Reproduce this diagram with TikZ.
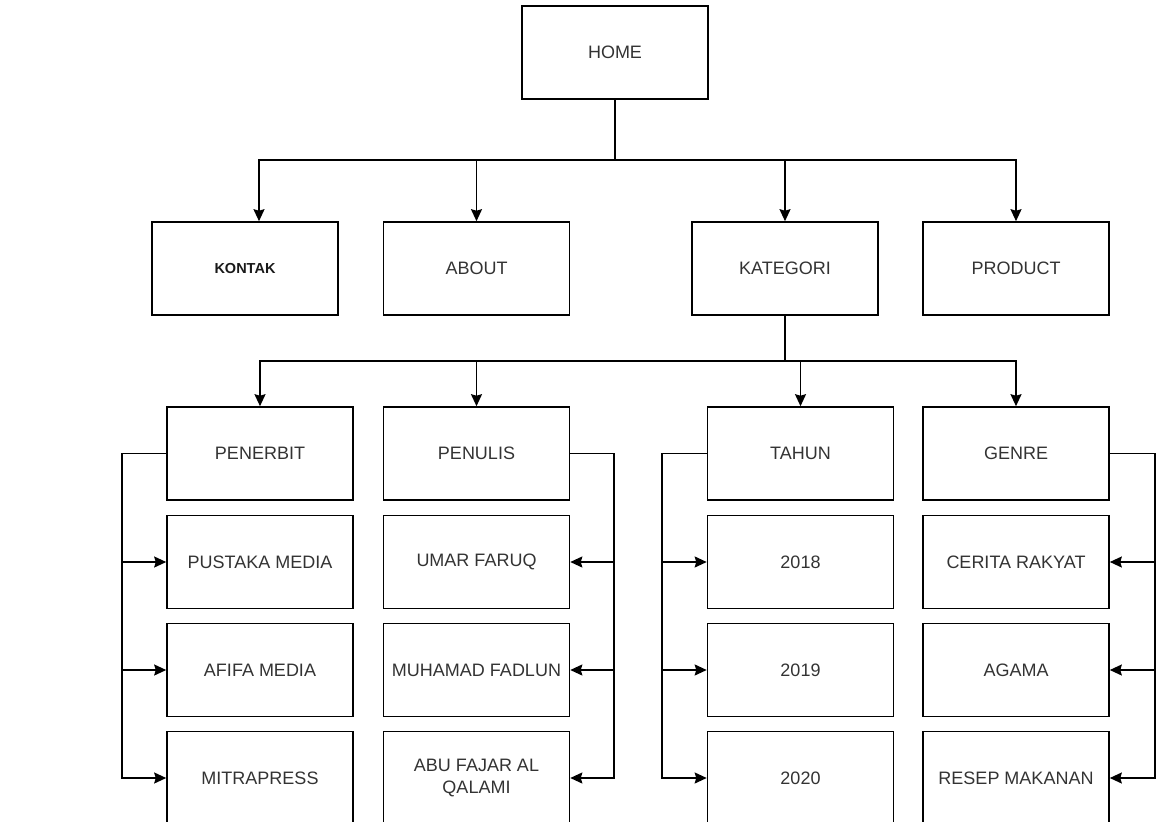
\documentclass[tikz,border=0pt]{standalone}
\usepackage{fontspec}
\setmainfont{Liberation Sans}
\usetikzlibrary{arrows.meta}

\tikzset{
  page/.style={draw=black, line width=1.6pt, minimum width=186pt, minimum height=93pt,
    inner sep=2pt, align=center, text=black!80, font=\fontsize{18}{21}\selectfont},
  link/.style={line width=1.6pt, -{Stealth[length=12pt,width=11pt,inset=1.5pt]}},
  wire/.style={line width=1.6pt}
}

\begin{document}
\begin{tikzpicture}[x=1pt,y=-1pt]
  \useasboundingbox (0,0) rectangle (1160,822);

  % --- top level ---
  \node[page] (home) at (615,52.5) {HOME};

  % --- menu ---
  \node[page, font=\bfseries\fontsize{14.5}{17}\selectfont, text=black!90] (kontak) at (245,268.5) {KONTAK};
  \node[page] (about) at (476.5,268.5) {ABOUT};
  \node[page] (kategori) at (785,268.5) {KATEGORI};
  \node[page] (product) at (1016,268.5) {PRODUCT};

  \coordinate (bus1) at (615,160);
  \draw[wire] (home.south) -- (bus1);
  \draw[link] (bus1) -| ([xshift=14pt]kontak.north);
  \draw[link] (bus1) -| (about.north);
  \draw[link] (bus1) -| (kategori.north);
  \draw[link] (bus1) -| (product.north);

  % --- kategori ---
  \node[page] (penerbit) at (260,453.5) {PENERBIT};
  \node[page] (penulis) at (476.5,453.5) {PENULIS};
  \node[page] (tahun) at (800.5,453.5) {TAHUN};
  \node[page] (genre) at (1016,453.5) {GENRE};

  \coordinate (bus2) at (785,361);
  \draw[wire] (kategori.south) -- (bus2);
  \draw[link] (bus2) -| (penerbit.north);
  \draw[link] (bus2) -| (penulis.north);
  \draw[link] (bus2) -| (tahun.north);
  \draw[link] (bus2) -| (genre.north);

  % --- sub items ---
  \node[page] (pustaka) at (260,562) {PUSTAKA MEDIA};
  \node[page] (afifa) at (260,670) {AFIFA MEDIA};
  \node[page] (mitra) at (260,778) {MITRAPRESS};

  \node[page] (umar) at (476.5,562) {UMAR FARUQ};
  \node[page] (fadlun) at (476.5,670) {MUHAMAD FADLUN};
  \node[page] (abu) at (476.5,778) {ABU FAJAR AL\\QALAMI};

  \node[page] (y2018) at (800.5,562) {2018};
  \node[page] (y2019) at (800.5,670) {2019};
  \node[page] (y2020) at (800.5,778) {2020};

  \node[page] (cerita) at (1016,562) {CERITA RAKYAT};
  \node[page] (agama) at (1016,670) {AGAMA};
  \node[page] (resep) at (1016,778) {RESEP MAKANAN};

  % --- side links ---
  \coordinate (side1) at (122,453.5);
  \coordinate (side2) at (614,453.5);
  \coordinate (side3) at (662,453.5);
  \coordinate (side4) at (1155,453.5);

  \draw[link] (penerbit.west) -- (side1) |- (pustaka);
  \draw[link] (side1) |- (afifa);
  \draw[link] (side1) |- (mitra);

  \draw[link] (penulis.east) -- (side2) |- (umar);
  \draw[link] (side2) |- (fadlun);
  \draw[link] (side2) |- (abu);

  \draw[link] (tahun.west) -- (side3) |- (y2018);
  \draw[link] (side3) |- (y2019);
  \draw[link] (side3) |- (y2020);

  \draw[link] (genre.east) -- (side4) |- (cerita);
  \draw[link] (side4) |- (agama);
  \draw[link] (side4) |- (resep);

\end{tikzpicture}
\end{document}
